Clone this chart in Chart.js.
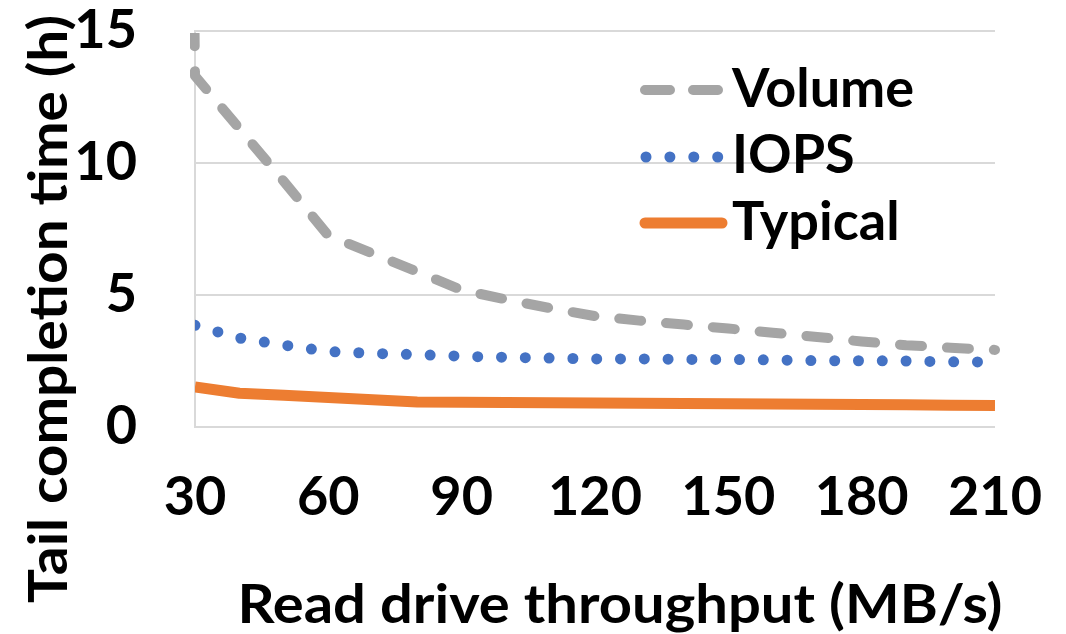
<!DOCTYPE html>
<html>
<head>
<meta charset="utf-8">
<script src="https://cdn.jsdelivr.net/npm/chart.js@4"></script>
<style>
  html, body { margin: 0; padding: 0; background: #ffffff; }
  #wrap { width: 1066px; height: 634px; position: relative; }
</style>
</head>
<body>
<div id="wrap"><canvas id="c" width="1066" height="634"></canvas></div>
<script>
// ---- data ----
const throughput = [30, 40, 50, 60, 70, 80, 90, 100, 110, 120, 130, 140, 150, 160, 170, 180, 190, 200, 210];
const volume  = [13.3, 11.3, 9.3, 7.25, 6.57, 5.88, 5.19, 4.83, 4.5, 4.2, 4.03, 3.88, 3.73, 3.57, 3.41, 3.24, 3.1, 3.0, 2.92];
const iops    = [3.85, 3.37, 3.1, 2.86, 2.79, 2.74, 2.68, 2.64, 2.61, 2.58, 2.58, 2.56, 2.56, 2.54, 2.51, 2.51, 2.5, 2.47, 2.46];
const typical = [1.52, 1.28, 1.2, 1.12, 1.03, 0.95, 0.94, 0.93, 0.92, 0.91, 0.9, 0.89, 0.88, 0.87, 0.86, 0.85, 0.84, 0.82, 0.81];
// leading (off-axis) point of the Volume series, visible only as the clipped spike at the axis
const volumeLeadX = 29;
const volumeLeadY = 29.5;
const seriesNames = ['Volume', 'IOPS', 'Typical'];
const xTicks = [30, 60, 90, 120, 150, 180, 210];
const yTicks = [0, 5, 10, 15];
const xTitle = 'Read drive throughput (MB/s)';
const yTitle = 'Tail completion time (h)';

const FONT = 'Lato, "Liberation Sans", sans-serif';
const COLORS = ['#A5A5A5', '#4472C4', '#ED7D31'];
const DASHES = [[22, 25], [0, 23.8], []];

function pts(xs, ys) { return xs.map((x, i) => ({ x: x, y: ys[i] })); }

const volumePts = [{ x: volumeLeadX, y: volumeLeadY }].concat(pts(throughput, volume));

function fitText(ctx, text, cx, cy, targetW) {
  const w = ctx.measureText(text).width;
  const k = targetW / w;
  ctx.save();
  ctx.translate(cx, cy);
  ctx.scale(k, 1);
  ctx.fillText(text, 0, 0);
  ctx.restore();
}

const titlesAndLegend = {
  id: 'titlesAndLegend',
  afterDraw(chart) {
    const ctx = chart.ctx;
    ctx.save();
    ctx.fillStyle = '#000000';
    ctx.font = 'bold 54px ' + FONT;
    ctx.textAlign = 'center';
    ctx.textBaseline = 'alphabetic';
    // x axis title
    fitText(ctx, xTitle, 620, 623, 765);
    // y axis title
    ctx.save();
    ctx.translate(67, 309);
    ctx.rotate(-Math.PI / 2);
    fitText(ctx, yTitle, 0, 0, 588);
    ctx.restore();
    // legend
    const lineY = [90, 157, 223];
    const baseY = [107, 173, 240];
    chart.data.datasets.forEach((ds, i) => {
      ctx.save();
      ctx.strokeStyle = ds.borderColor;
      ctx.lineWidth = ds.borderWidth;
      ctx.lineCap = 'round';
      if (i === 0) ctx.setLineDash([25, 23]);
      else if (i === 1) ctx.setLineDash([0, 23.9]);
      else ctx.setLineDash([]);
      ctx.beginPath();
      if (i === 1) { ctx.moveTo(646, lineY[i]); ctx.lineTo(720, lineY[i]); }
      else if (i === 0) { ctx.moveTo(645, lineY[i]); ctx.lineTo(718, lineY[i]); }
      else { ctx.moveTo(645, lineY[i]); ctx.lineTo(722, lineY[i]); }
      ctx.stroke();
      ctx.restore();
      ctx.textAlign = 'left';
      ctx.textBaseline = 'alphabetic';
      ctx.fillText(ds.label, 732, baseY[i]);
    });
    ctx.restore();
  }
};

new Chart(document.getElementById('c'), {
  type: 'line',
  data: {
    datasets: [
      { label: seriesNames[0], data: volumePts, borderColor: COLORS[0], borderWidth: 10,
        borderDash: DASHES[0], borderCapStyle: 'round', borderJoinStyle: 'round',
        pointRadius: 0, tension: 0, fill: false, clip: { left: 5, top: -2, right: 5, bottom: 5 } },
      { label: seriesNames[1], data: pts(throughput, iops), borderColor: COLORS[1], borderWidth: 11,
        borderDash: DASHES[1], borderCapStyle: 'round', borderJoinStyle: 'round',
        pointRadius: 0, tension: 0, fill: false, clip: { left: 0, top: 5, right: 5, bottom: 5 } },
      { label: seriesNames[2], data: pts(throughput, typical), borderColor: COLORS[2], borderWidth: 11,
        borderDash: DASHES[2], borderCapStyle: 'butt', borderJoinStyle: 'round',
        pointRadius: 0, tension: 0, fill: false, clip: { left: 0, top: 5, right: 0, bottom: 5 } }
    ]
  },
  options: {
    responsive: false,
    animation: false,
    devicePixelRatio: 1,
    layout: { padding: { left: 0, top: 31, right: 71, bottom: 0 } },
    plugins: { legend: { display: false }, tooltip: { enabled: false } },
    scales: {
      x: {
        type: 'linear', min: 30, max: 210,
        afterFit(s) { s.height = 207; s.paddingLeft = 0; s.paddingRight = 0; },
        afterBuildTicks(s) { s.ticks = xTicks.map(v => ({ value: v })); },
        grid: { display: false, drawTicks: false },
        border: { display: false },
        ticks: { padding: 44, color: '#000000', font: { family: FONT, size: 54, weight: 'bold', lineHeight: 1 }, maxRotation: 0, autoSkip: false }
      },
      y: {
        type: 'linear', min: 0, max: 15,
        afterFit(s) { s.width = 195; s.paddingTop = 0; s.paddingBottom = 0; },
        afterBuildTicks(s) { s.ticks = yTicks.map(v => ({ value: v })); },
        grid: { color: '#D9D9D9', lineWidth: 2, drawTicks: false },
        border: { display: true, color: '#D9D9D9', width: 2 },
        ticks: { padding: 58, color: '#000000', font: { family: FONT, size: 54, weight: 'bold', lineHeight: 1 } }
      }
    }
  },
  plugins: [titlesAndLegend]
});
</script>
</body>
</html>
